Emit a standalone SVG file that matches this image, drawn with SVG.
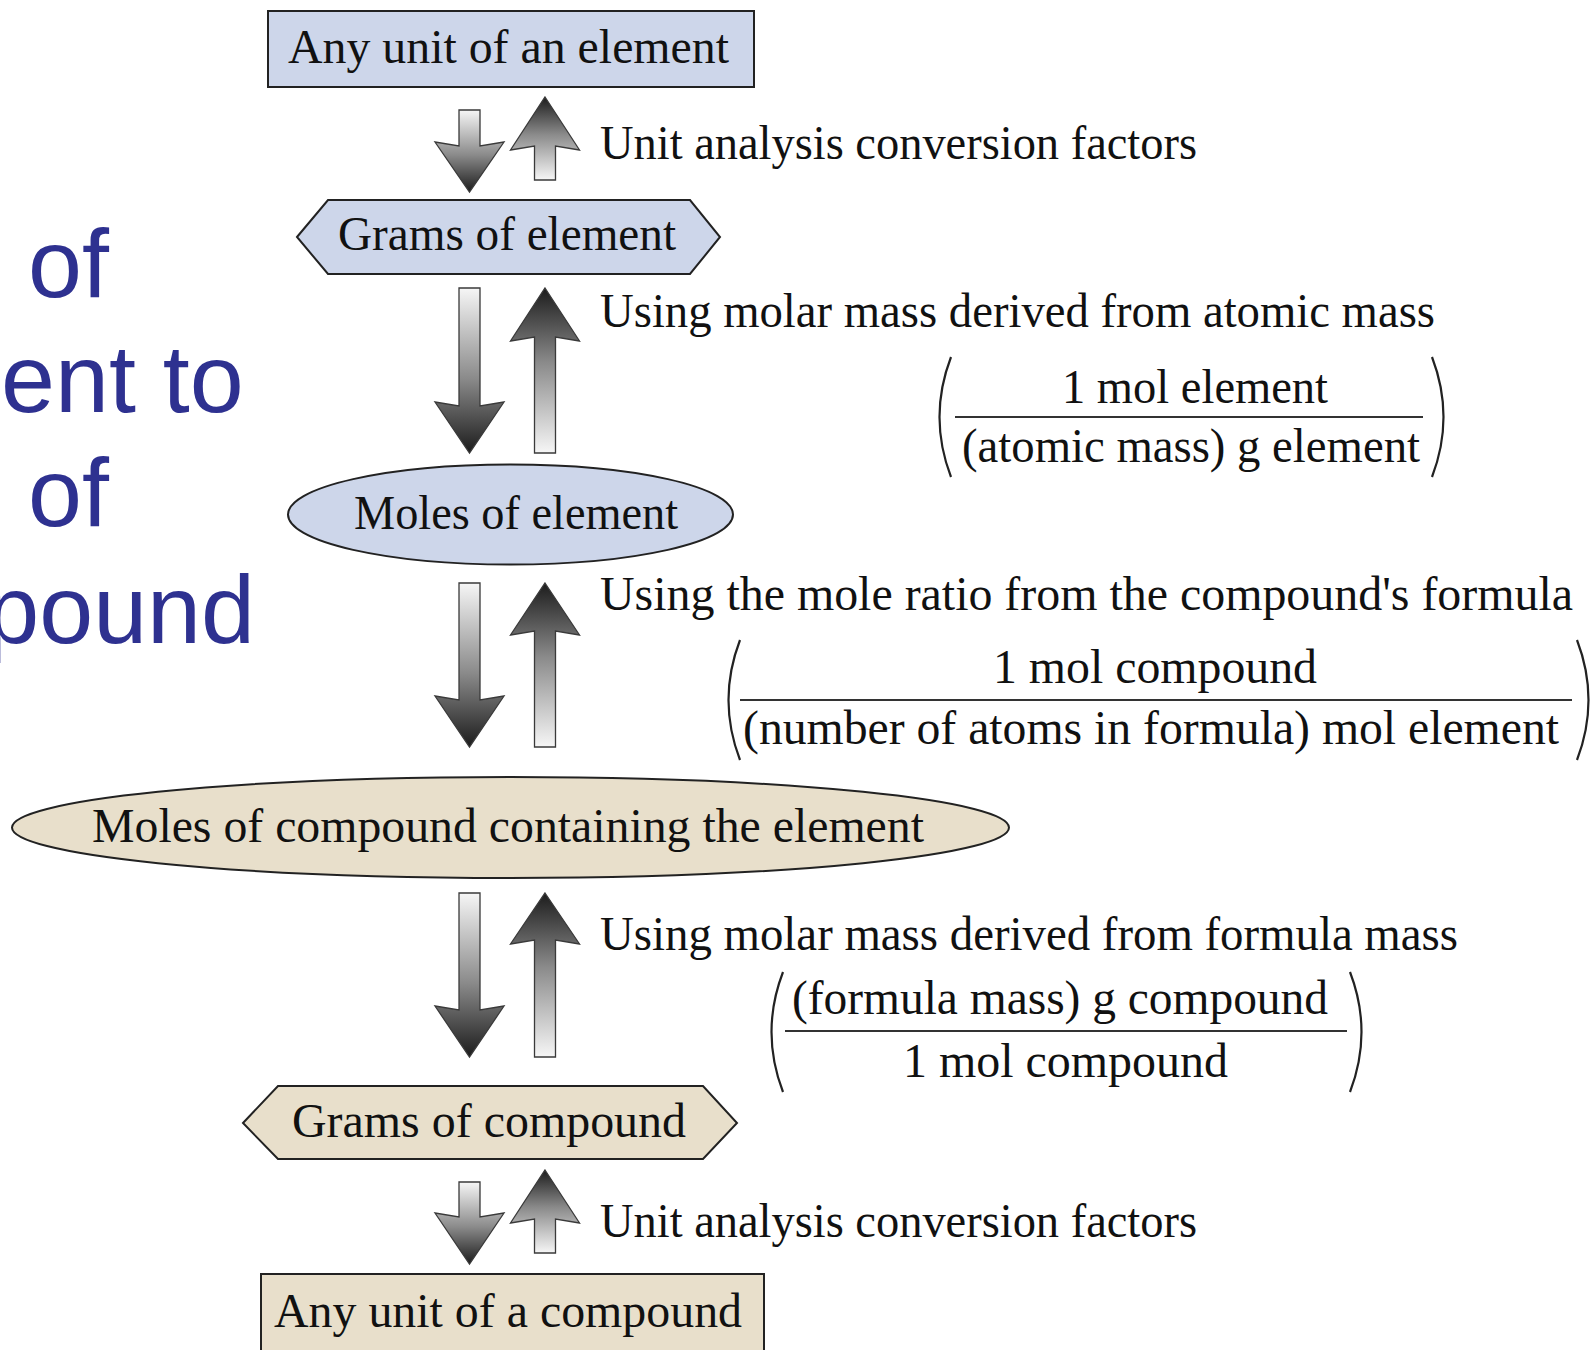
<svg xmlns="http://www.w3.org/2000/svg" width="1593" height="1350" viewBox="0 0 1593 1350">
<defs>
<linearGradient id="gDown" x1="0" y1="0" x2="0" y2="1">
<stop offset="0" stop-color="#f6f6f6"/>
<stop offset="0.55" stop-color="#8a8a8a"/>
<stop offset="1" stop-color="#1c1c1c"/>
</linearGradient>
<linearGradient id="gUp" x1="0" y1="1" x2="0" y2="0">
<stop offset="0" stop-color="#f6f6f6"/>
<stop offset="0.55" stop-color="#8a8a8a"/>
<stop offset="1" stop-color="#1c1c1c"/>
</linearGradient>
<style>
.serif{font-family:"Liberation Serif","Times New Roman",serif;font-size:48px;fill:#111;}
.blue{font-family:"Liberation Sans",Arial,sans-serif;font-size:97px;fill:#2e3190;}
.bluefill{fill:#cdd6ea;stroke:#222;stroke-width:2;}
.beige{fill:#e8dfcb;stroke:#222;stroke-width:2;}
.down{fill:url(#gDown);stroke:#3a3a3a;stroke-width:1.3;}
.up{fill:url(#gUp);stroke:#3a3a3a;stroke-width:1.3;}
.bar{stroke:#333;stroke-width:2;fill:none;}
.paren{stroke:#222;stroke-width:2.2;fill:none;}
</style>
</defs>
<rect width="1593" height="1350" fill="#ffffff"/>

<g id="side-title">
<text class="blue" x="28" y="297">of</text>
<text class="blue" x="1" y="412">ent to</text>
<text class="blue" x="28" y="526">of</text>
<text class="blue" x="255" y="643" text-anchor="end">pound</text>
</g>

<g id="node-any-unit-element">
<rect class="bluefill" x="268" y="11" width="486" height="76"/>
<text class="serif" x="288" y="63" textLength="441" lengthAdjust="spacingAndGlyphs">Any unit of an element</text>
</g>

<g id="node-grams-element">
<polygon class="bluefill" points="297,237 328,200 690,200 720,237 690,274 328,274"/>
<text class="serif" x="338" y="250" textLength="338" lengthAdjust="spacingAndGlyphs">Grams of element</text>
</g>

<g id="node-moles-element">
<ellipse class="bluefill" cx="510.5" cy="514.5" rx="222.5" ry="50"/>
<text class="serif" x="354" y="529" textLength="324" lengthAdjust="spacingAndGlyphs">Moles of element</text>
</g>

<g id="node-moles-compound">
<ellipse class="beige" cx="510.5" cy="827.5" rx="498.5" ry="50.5"/>
<text class="serif" x="92" y="842" textLength="832" lengthAdjust="spacingAndGlyphs">Moles of compound containing the element</text>
</g>

<g id="node-grams-compound">
<polygon class="beige" points="243,1123 278,1086 703,1086 737,1123 703,1159 278,1159"/>
<text class="serif" x="292" y="1137" textLength="394" lengthAdjust="spacingAndGlyphs">Grams of compound</text>
</g>

<g id="node-any-unit-compound">
<rect class="beige" x="261" y="1274" width="503" height="100"/>
<text class="serif" x="274" y="1327" textLength="468" lengthAdjust="spacingAndGlyphs">Any unit of a compound</text>
</g>

<g id="connectors">
<path class="down" d="M459,110 L480,110 L480,146 L504,142 L469.5,192 L435,142 L459,146 Z"/>
<path class="up" d="M545,97 L579.5,150 L555.5,146 L555.5,180 L534.5,180 L534.5,146 L510.5,150 Z"/>
<path class="down" d="M459,288 L480,288 L480,406 L504,402 L469.5,453 L435,402 L459,406 Z"/>
<path class="up" d="M545,288 L579.5,341 L555.5,337 L555.5,453 L534.5,453 L534.5,337 L510.5,341 Z"/>
<path class="down" d="M459,583 L480,583 L480,700 L504,696 L469.5,747 L435,696 L459,700 Z"/>
<path class="up" d="M545,583 L579.5,635 L555.5,631 L555.5,747 L534.5,747 L534.5,631 L510.5,635 Z"/>
<path class="down" d="M459,893 L480,893 L480,1010 L504,1006 L469.5,1057 L435,1006 L459,1010 Z"/>
<path class="up" d="M545,893 L579.5,944 L555.5,940 L555.5,1057 L534.5,1057 L534.5,940 L510.5,944 Z"/>
<path class="down" d="M459,1182 L480,1182 L480,1217 L504,1213 L469.5,1264 L435,1213 L459,1217 Z"/>
<path class="up" d="M545,1170 L579.5,1223 L555.5,1219 L555.5,1253 L534.5,1253 L534.5,1219 L510.5,1223 Z"/>
</g>

<g id="labels">
<text class="serif" x="600" y="159" textLength="597" lengthAdjust="spacingAndGlyphs">Unit analysis conversion factors</text>

<text class="serif" x="600" y="327" textLength="835" lengthAdjust="spacingAndGlyphs">Using molar mass derived from atomic mass</text>
<path class="paren" d="M951,357 Q928,417 951,477"/>
<text class="serif" x="1062" y="403" textLength="266" lengthAdjust="spacingAndGlyphs">1 mol element</text>
<line class="bar" x1="955" y1="417" x2="1423" y2="417"/>
<text class="serif" x="962" y="462" textLength="458" lengthAdjust="spacingAndGlyphs">(atomic mass) g element</text>
<path class="paren" d="M1432,357 Q1455,417 1432,477"/>

<text class="serif" x="600" y="610" textLength="973" lengthAdjust="spacingAndGlyphs">Using the mole ratio from the compound's formula</text>
<path class="paren" d="M740,640 Q717,700 740,760"/>
<text class="serif" x="993" y="683" textLength="324" lengthAdjust="spacingAndGlyphs">1 mol compound</text>
<line class="bar" x1="740" y1="700" x2="1572" y2="700"/>
<text class="serif" x="743" y="744" textLength="816" lengthAdjust="spacingAndGlyphs">(number of atoms in formula) mol element</text>
<path class="paren" d="M1577,640 Q1600,700 1577,760"/>

<text class="serif" x="600" y="950" textLength="858" lengthAdjust="spacingAndGlyphs">Using molar mass derived from formula mass</text>
<path class="paren" d="M783,972 Q760,1032 783,1092"/>
<text class="serif" x="792" y="1014" textLength="536" lengthAdjust="spacingAndGlyphs">(formula mass) g compound</text>
<line class="bar" x1="785" y1="1031" x2="1347" y2="1031"/>
<text class="serif" x="903" y="1077" textLength="325" lengthAdjust="spacingAndGlyphs">1 mol compound</text>
<path class="paren" d="M1350,972 Q1373,1032 1350,1092"/>

<text class="serif" x="600" y="1237" textLength="597" lengthAdjust="spacingAndGlyphs">Unit analysis conversion factors</text>
</g>
</svg>
